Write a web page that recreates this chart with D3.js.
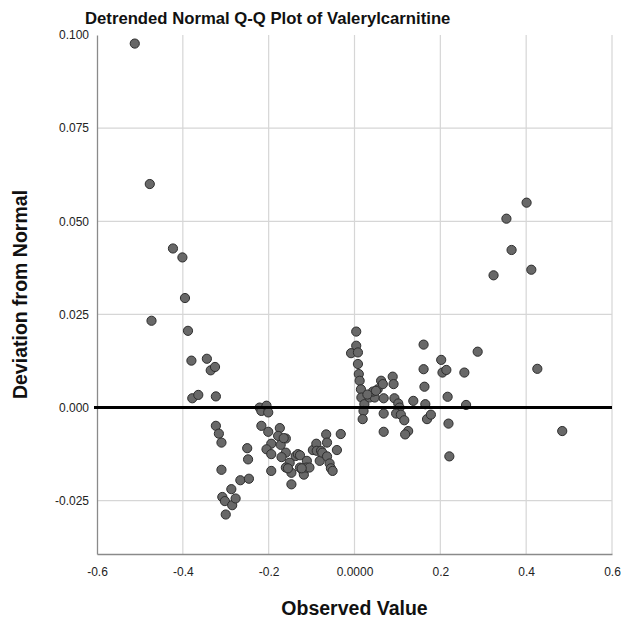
<!DOCTYPE html>
<html><head><meta charset="utf-8">
<script src="https://cdn.jsdelivr.net/npm/d3@7"></script>
<style>
body{margin:0;background:#fff;}
svg{display:block;font-family:"Liberation Sans",Arial,sans-serif;}
</style></head>
<body>
<script>
const title = "Detrended Normal Q-Q Plot of Valerylcarnitine";
const xLabel = "Observed Value";
const yLabel = "Deviation from Normal";
const xTicks = [-0.6, -0.4, -0.2, 0, 0.2, 0.4, 0.6];
const xTickLabels = ["-0.6", "-0.4", "-0.2", "0.0000", "0.2", "0.4", "0.6"];
const yTicks = [0.100, 0.075, 0.050, 0.025, 0.000, -0.025];
const yTickLabels = ["0.100", "0.075", "0.050", "0.025", "0.000", "-0.025"];
const observed = [
 -0.512,-0.477,-0.473,-0.423,-0.401,-0.395,-0.388,-0.380,-0.378,-0.364,
 -0.344,-0.335,-0.325,-0.323,-0.323,-0.316,-0.310,-0.310,-0.308,-0.302,
 -0.300,-0.287,-0.285,-0.277,-0.266,-0.250,-0.248,-0.246,-0.221,-0.217,
 -0.205,-0.201,-0.217,-0.201,-0.194,-0.205,-0.194,-0.194,-0.174,-0.178,
 -0.160,-0.172,-0.160,-0.170,-0.151,-0.160,-0.147,-0.147,-0.137,-0.132,
 -0.127,-0.127,-0.120,-0.118,-0.111,-0.112,-0.105,-0.097,-0.089,-0.088,
 -0.081,-0.078,-0.075,-0.066,-0.064,-0.064,-0.058,-0.055,-0.051,-0.041,
 -0.032,-0.165,-0.155,-0.123,
  0.004, 0.004,-0.008, 0.008, 0.008, 0.010, 0.012, 0.015, 0.016, 0.023,
  0.021, 0.019, 0.035, 0.047, 0.043, 0.054, 0.062, 0.066, 0.068, 0.068,
  0.068, 0.089, 0.091, 0.093, 0.102, 0.105, 0.097, 0.108, 0.116, 0.125,
  0.118, 0.137, 0.161, 0.161, 0.163, 0.165, 0.169, 0.178, 0.202, 0.205,
  0.214, 0.217, 0.219, 0.221, 0.256, 0.260, 0.287, 0.324, 0.354, 0.366,
  0.401, 0.412, 0.426, 0.484, 0.050, 0.030
];
const deviation = [
  0.0977, 0.0600, 0.0233, 0.0427, 0.0403, 0.0294, 0.0206, 0.0126, 0.0025, 0.0034,
  0.0131, 0.0100, 0.0109, 0.0030,-0.0049,-0.0070,-0.0094,-0.0167,-0.0240,-0.0251,
 -0.0287,-0.0219,-0.0262,-0.0244,-0.0195,-0.0109,-0.0139,-0.0191, 0.0000,-0.0009,
  0.0005,-0.0013,-0.0049,-0.0065,-0.0097,-0.0112,-0.0125,-0.0170,-0.0055,-0.0076,
 -0.0083,-0.0100,-0.0121,-0.0133,-0.0148,-0.0161,-0.0175,-0.0206,-0.0130,-0.0125,
 -0.0128,-0.0161,-0.0170,-0.0180,-0.0143,-0.0161,-0.0161,-0.0114,-0.0097,-0.0116,
 -0.0143,-0.0116,-0.0121,-0.0072,-0.0094,-0.0131,-0.0150,-0.0163,-0.0170,-0.0114,
 -0.0071,-0.0082,-0.0163,-0.0163,
  0.0204, 0.0166, 0.0146, 0.0148, 0.0117, 0.0090, 0.0072, 0.0049, 0.0027, 0.0009,
 -0.0009,-0.0031, 0.0027, 0.0027, 0.0043, 0.0049, 0.0072, 0.0063, 0.0025,-0.0016,
 -0.0065, 0.0083, 0.0063, 0.0025, 0.0011, 0.0000,-0.0016,-0.0019,-0.0034,-0.0063,
 -0.0072, 0.0018, 0.0169, 0.0103, 0.0056, 0.0009,-0.0031,-0.0019, 0.0128, 0.0094,
  0.0101, 0.0029,-0.0043,-0.0131, 0.0094, 0.0007, 0.0150, 0.0355, 0.0507, 0.0423,
  0.0550, 0.0370, 0.0104,-0.0063, 0.0045, 0.0035
];

const W = 626, H = 623;
const m = {left: 97, right: 14, top: 35, bottom: 69};
const svg = d3.select("body").append("svg").attr("width", W).attr("height", H);

const x = d3.scaleLinear().domain([-0.6, 0.6]).range([m.left, W - m.right]);
const y = d3.scaleLinear().domain([-0.0393, 0.100]).range([H - m.bottom, m.top]);

// gridlines
svg.append("g").selectAll("line").data(xTicks.filter(d => d > -0.6)).join("line")
  .attr("x1", d => x(d)).attr("x2", d => x(d))
  .attr("y1", y.range()[1]).attr("y2", y.range()[0])
  .attr("stroke", "#d6d6d6").attr("stroke-width", 1.2);
svg.append("g").selectAll("line").data(yTicks.filter(d => d < 0.1 && d !== 0)).join("line")
  .attr("x1", x.range()[0]).attr("x2", x.range()[1])
  .attr("y1", d => y(d)).attr("y2", d => y(d))
  .attr("stroke", "#d6d6d6").attr("stroke-width", 1.2);

// axes
const xAxis = svg.append("g").attr("transform", `translate(0,${H - m.bottom})`)
  .call(d3.axisBottom(x).tickValues(xTicks).tickFormat((d, i) => xTickLabels[i]).tickSize(0).tickPadding(13));
const yAxis = svg.append("g").attr("transform", `translate(${m.left},0)`)
  .call(d3.axisLeft(y).tickValues(yTicks).tickFormat((d, i) => yTickLabels[i]).tickSize(0).tickPadding(8));
[xAxis, yAxis].forEach(a => {
  a.select(".domain").attr("stroke", "#8a8a8a").attr("stroke-width", 1.3);
  a.selectAll("text").attr("font-size", 12).attr("fill", "#222")
    .attr("font-family", "'Liberation Sans',Arial,sans-serif");
});

// points
svg.append("g").selectAll("circle").data(observed.map((v, i) => [v, deviation[i]])).join("circle")
  .attr("cx", d => x(d[0])).attr("cy", d => y(d[1])).attr("r", 4.6)
  .attr("fill", "#686868").attr("stroke", "#2e2e2e").attr("stroke-width", 1);

// zero reference line
svg.append("line").attr("x1", x.range()[0] - 3).attr("x2", x.range()[1])
  .attr("y1", y(0)).attr("y2", y(0)).attr("stroke", "#000").attr("stroke-width", 3);

// titles
svg.append("text").attr("x", 85).attr("y", 24).attr("text-anchor", "start")
  .attr("font-size", 16.7).attr("font-weight", "bold").attr("fill", "#111").text(title);
svg.append("text").attr("x", (x.range()[0] + x.range()[1]) / 2).attr("y", 615)
  .attr("text-anchor", "middle").attr("font-size", 19.5).attr("font-weight", "bold").attr("fill", "#111").text(xLabel);
svg.append("text").attr("transform", `translate(27,${(y.range()[0] + y.range()[1]) / 2}) rotate(-90)`)
  .attr("text-anchor", "middle").attr("font-size", 19.5).attr("font-weight", "bold").attr("fill", "#111").text(yLabel);
</script>
</body></html>
